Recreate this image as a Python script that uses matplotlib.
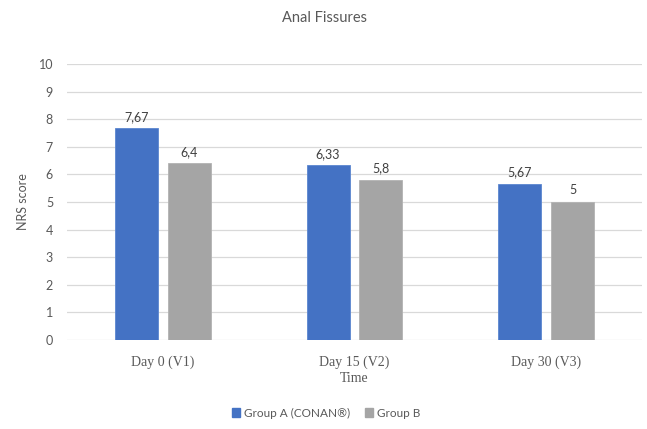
import matplotlib
matplotlib.use("Agg")
import matplotlib.pyplot as plt
import numpy as np

categories = ["Day 0 (V1)", "Day 15 (V2)", "Day 30 (V3)"]
group_a = [7.67, 6.33, 5.67]
group_b = [6.4, 5.8, 5.0]
series_names = ["Group A (CONAN®)", "Group B"]
yticks = list(range(0, 11))

SANS = ["Lato", "DejaVu Sans"]
SERIF = ["Liberation Serif", "DejaVu Serif"]
BLUE = "#4472C4"
GREY = "#A5A5A5"
TXT = "#595959"

fig = plt.figure(figsize=(6.47, 4.29), dpi=100)
W, H = 647, 429
left, right, top, bottom = 67, 642, 64, 340
ax = fig.add_axes([left / W, 1 - bottom / H, (right - left) / W, (bottom - top) / H])

x = np.arange(len(categories))
bw = 0.224
off = 0.138
bars_a = ax.bar(x - off, group_a, bw, color=BLUE, edgecolor="#5B86D0", linewidth=0.6, zorder=3)
bars_b = ax.bar(x + off, group_b, bw, color=GREY, edgecolor="#B3B3B3", linewidth=0.6, zorder=3)

def fmt(v):
    s = f"{v:.2f}".rstrip("0").rstrip(".")
    return s.replace(".", ",")

for bars, vals in ((bars_a, group_a), (bars_b, group_b)):
    for b, v in zip(bars, vals):
        ax.annotate(fmt(v), (b.get_x() + b.get_width() / 2, v), xytext=(0, 4),
                    textcoords="offset points", ha="center", va="bottom",
                    fontsize=9, color="#404040", family=SANS)

ax.set_xlim(-0.5, len(categories) - 0.5)
ax.set_ylim(0, 10)
ax.set_yticks(yticks)
ax.set_yticklabels([str(t) for t in yticks], family=SANS, fontsize=9, color=TXT)
ax.set_xticks(x)
ax.set_xticklabels(categories, family=SERIF, fontsize=10, color=TXT)
ax.tick_params(axis="both", length=0)
ax.tick_params(axis="y", pad=10)
ax.tick_params(axis="x", pad=11)
ax.grid(axis="y", color="#D9D9D9", linewidth=0.9, zorder=0)
for s in ax.spines.values():
    s.set_visible(False)

ax.set_xlabel("Time", family=SERIF, fontsize=10, color=TXT, labelpad=2)
ax.set_ylabel("NRS score", family=SANS, fontsize=9, color=TXT, labelpad=7)
fig.text(325 / W, 1 - 18 / H, "Anal Fissures", ha="center", va="center",
         family=SANS, fontsize=10.5, color=TXT)

handles = [plt.Rectangle((0, 0), 1, 1, color=BLUE), plt.Rectangle((0, 0), 1, 1, color=GREY)]
fig.legend(handles, series_names, loc="center", bbox_to_anchor=(326 / W, 1 - 413 / H),
           ncol=2, frameon=False, prop={"family": SANS, "size": 8.5},
           handlelength=0.7, handleheight=0.7, handletextpad=0.3, columnspacing=1.3,
           labelcolor=TXT)

fig.savefig("out.png", dpi=100, facecolor="white")
